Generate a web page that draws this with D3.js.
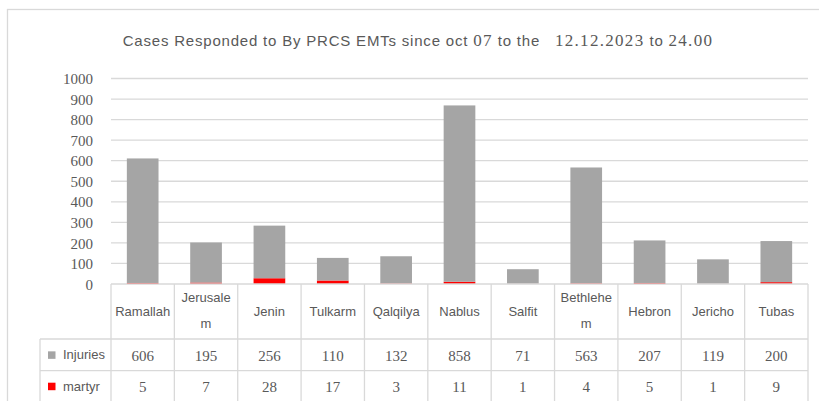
<!DOCTYPE html>
<html>
<head>
<meta charset="utf-8">
<script src="https://cdn.jsdelivr.net/npm/d3@7"></script>
<style>
  html, body { margin: 0; padding: 0; background: #fff; }
  svg { display: block; }
</style>
</head>
<body>
<div id="chart"></div>
<script>
// Data
const categories = ['Ramallah', 'Jerusalem', 'Jenin', 'Tulkarm', 'Qalqilya', 'Nablus', 'Salfit', 'Bethlehem', 'Hebron', 'Jericho', 'Tubas'];
const injuries = [606, 195, 256, 110, 132, 858, 71, 563, 207, 119, 200];
const martyr = [5, 7, 28, 17, 3, 11, 1, 4, 5, 1, 9];
const yTicks = [0, 100, 200, 300, 400, 500, 600, 700, 800, 900, 1000];
const seriesNames = ['Injuries', 'martyr'];
const seriesColors = ['#a5a5a5', '#ff0000'];

const width = 819, height = 401;
const plotLeft = 111, plotRight = 808;
const plotTop = 78.5, plotBottom = 284;
const sans = 'Arial, "Liberation Sans", sans-serif';
const serif = '"Times New Roman", "Liberation Serif", serif';
const textColor = '#595959';
const lineColor = '#d9d9d9';

const svg = d3.select('#chart').append('svg')
    .attr('width', width)
    .attr('height', height);

// outer chart frame
svg.append('rect')
    .attr('x', 7.5).attr('y', 9.5)
    .attr('width', 900).attr('height', 500)
    .attr('fill', 'none')
    .attr('stroke', lineColor)
    .attr('stroke-width', 1.3);

// title (mixed sans / serif runs like the original)
const title = svg.append('text')
    .attr('x', 418).attr('y', 46)
    .attr('text-anchor', 'middle')
    .attr('fill', textColor)
    .attr('font-size', 15)
    .attr('font-family', sans);
const titleRuns = [
    ['Cases Responded to By PRCS EMTs since oct ', sans, 15, 0.8],
    ['07', serif, 17, 1.3],
    [' to the\u00a0\u00a0 ', sans, 15, 0.8],
    ['12.12.2023', serif, 17, 1.3],
    [' to ', sans, 15, 0.8],
    ['24.00', serif, 17, 1.3]
];
titleRuns.forEach(r => {
    title.append('tspan')
        .attr('font-family', r[1])
        .attr('font-size', r[2])
        .attr('letter-spacing', r[3])
        .text(r[0]);
});

const x = d3.scaleBand()
    .domain(categories)
    .range([plotLeft, plotRight])
    .paddingInner(0.5)
    .paddingOuter(0.25);

const y = d3.scaleLinear()
    .domain([0, 1000])
    .range([plotBottom, plotTop]);

// gridlines
svg.append('g')
    .selectAll('line')
    .data(yTicks.filter(d => d > 0))
    .join('line')
    .attr('x1', plotLeft).attr('x2', plotRight)
    .attr('y1', d => y(d)).attr('y2', d => y(d))
    .attr('stroke', lineColor)
    .attr('stroke-width', 1.3);

// y axis labels
const yAxis = svg.append('g')
    .attr('transform', `translate(${plotLeft - 4},0)`)
    .call(d3.axisLeft(y).tickValues(yTicks).tickFormat(d3.format('d')).tickSize(0).tickPadding(14));
yAxis.select('.domain').remove();
yAxis.selectAll('text')
    .attr('font-family', serif)
    .attr('font-size', 15)
    .attr('fill', textColor)
    .attr('dy', '0.34em');

// stacked bars: martyr at the bottom, injuries on top
const rows = categories.map((c, i) => ({ cat: c, injuries: injuries[i], martyr: martyr[i] }));
const stack = d3.stack().keys(['martyr', 'injuries'])(rows);
const colorFor = { martyr: seriesColors[1], injuries: seriesColors[0] };

svg.append('g')
    .selectAll('g')
    .data(stack)
    .join('g')
    .attr('fill', d => colorFor[d.key])
    .selectAll('rect')
    .data(d => d)
    .join('rect')
    .attr('x', d => x(d.data.cat))
    .attr('width', x.bandwidth())
    .attr('y', d => y(d[1]))
    .attr('height', d => y(d[0]) - y(d[1]));

// data table under the plot
const step = x.step();
const colEdges = categories.map((c, i) => plotLeft + i * step).concat([plotRight]);
const headerBottom = 339, row1Bottom = 370.7, row2Bottom = 405;
const legendLeft = 40;
const table = svg.append('g')
    .attr('stroke', lineColor)
    .attr('stroke-width', 1.3);

// horizontal lines
[[plotLeft, plotRight, plotBottom], [legendLeft, plotRight, headerBottom], [legendLeft, plotRight, row1Bottom]]
    .forEach(l => {
        table.append('line')
            .attr('x1', l[0]).attr('x2', l[1])
            .attr('y1', l[2]).attr('y2', l[2]);
    });
// vertical lines
colEdges.forEach(xe => {
    table.append('line')
        .attr('x1', xe).attr('x2', xe)
        .attr('y1', plotBottom).attr('y2', row2Bottom);
});
table.append('line')
    .attr('x1', legendLeft).attr('x2', legendLeft)
    .attr('y1', headerBottom).attr('y2', row2Bottom);

// category header labels, wrapped when wider than the cell
categories.forEach((c, i) => {
    const cx = colEdges[i] + step / 2;
    const t = svg.append('text')
        .attr('x', cx).attr('y', 311)
        .attr('text-anchor', 'middle')
        .attr('dominant-baseline', 'central')
        .attr('font-family', sans)
        .attr('font-size', 13)
        .attr('fill', textColor)
        .text(c);
    if (t.node().getComputedTextLength() > step - 5) {
        let head = c, tail = '';
        while (head.length > 1) {
            tail = head.slice(-1) + tail;
            head = head.slice(0, -1);
            t.text(head);
            if (t.node().getComputedTextLength() <= step - 5) break;
        }
        t.attr('y', 297);
        svg.append('text')
            .attr('x', cx).attr('y', 323)
            .attr('text-anchor', 'middle')
            .attr('dominant-baseline', 'central')
            .attr('font-family', sans)
            .attr('font-size', 13)
            .attr('fill', textColor)
            .text(tail);
    }
});

// value rows with legend keys
const tableRows = [
    { name: seriesNames[0], color: seriesColors[0], values: injuries, cy: (headerBottom + row1Bottom) / 2 },
    { name: seriesNames[1], color: seriesColors[1], values: martyr, cy: row1Bottom + 15.5 }
];
tableRows.forEach(r => {
    svg.append('rect')
        .attr('x', 48).attr('y', r.cy - 3.5)
        .attr('width', 7.5).attr('height', 7.5)
        .attr('fill', r.color);
    svg.append('text')
        .attr('x', 63).attr('y', r.cy)
        .attr('dominant-baseline', 'central')
        .attr('font-family', sans)
        .attr('font-size', 13)
        .attr('fill', textColor)
        .text(r.name);
    r.values.forEach((v, i) => {
        svg.append('text')
            .attr('x', colEdges[i] + step / 2)
            .attr('y', r.cy + 1)
            .attr('text-anchor', 'middle')
            .attr('dominant-baseline', 'central')
            .attr('font-family', serif)
            .attr('font-size', 15)
            .attr('fill', textColor)
            .text(v);
    });
});
</script>
</body>
</html>
